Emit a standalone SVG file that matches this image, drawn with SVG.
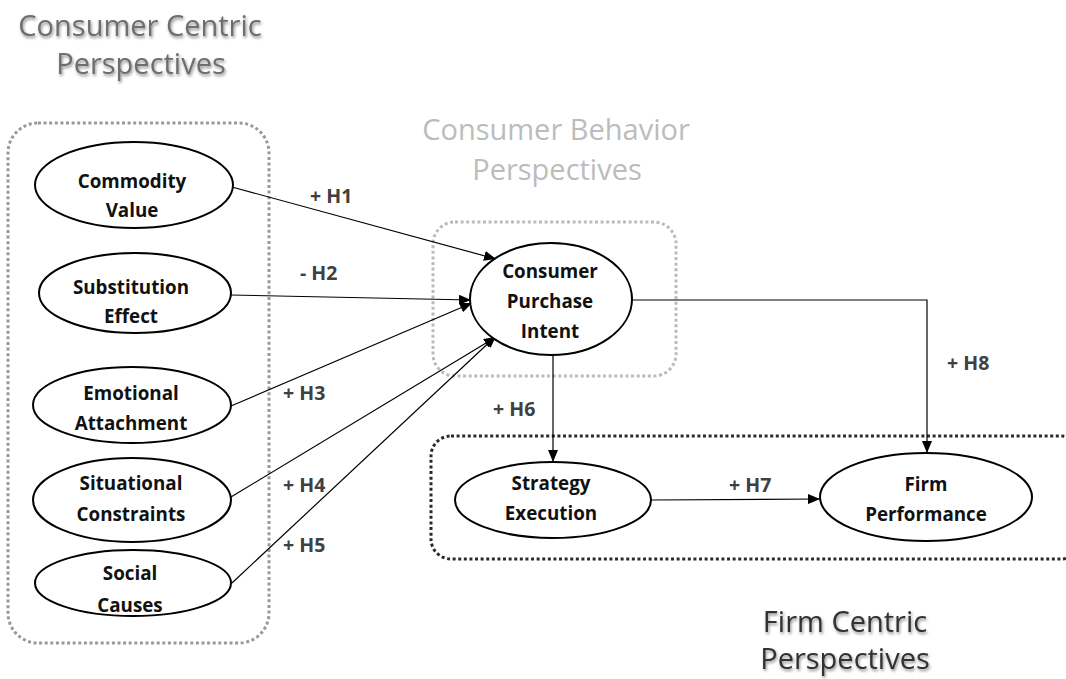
<svg xmlns="http://www.w3.org/2000/svg" width="1066" height="679" viewBox="0 0 1066 679">
  <style>
    .title { font-family: "Open Sans", "Liberation Sans", sans-serif; font-size: 29px; text-anchor: middle; }
    .node ellipse { fill: #ffffff; stroke: #000000; stroke-width: 2; }
    .node text { font-family: "Open Sans", "Liberation Sans", sans-serif; font-size: 18.8px; font-weight: bold; fill: #111111; text-anchor: middle; }
    .lbl { font-family: "Open Sans", "Liberation Sans", sans-serif; font-size: 19.5px; font-weight: bold; fill: #404040; }
    .edge { fill: none; stroke: #000000; stroke-width: 1.2; }
    .group-box { fill: none; stroke-width: 3; stroke-dasharray: 3 2.6; }
  </style>
  <defs>
    <marker id="arrow" viewBox="0 0 12 10" refX="12" refY="5" markerWidth="12" markerHeight="10" markerUnits="userSpaceOnUse" orient="auto">
      <path d="M0,0 L12,5 L0,10 z" fill="#000000"/>
    </marker>
    <filter id="soft" x="-10%" y="-30%" width="120%" height="160%">
      <feGaussianBlur in="SourceAlpha" stdDeviation="1.6"/>
      <feOffset dx="1" dy="1.5" result="b"/>
      <feFlood flood-color="#000000" flood-opacity="0.45"/>
      <feComposite in2="b" operator="in"/>
      <feMerge>
        <feMergeNode/>
        <feMergeNode in="SourceGraphic"/>
      </feMerge>
    </filter>
  </defs>

  <rect width="1066" height="679" fill="#ffffff"/>

  <!-- perspective groupings -->
  <g id="consumer-centric">
    <rect class="group-box" x="8" y="123" width="261" height="520" rx="30" stroke="#999999"/>
    <text class="title" x="140" y="36" fill="#6e6e6e" filter="url(#soft)">Consumer Centric</text>
    <text class="title" x="141" y="74" fill="#6e6e6e" filter="url(#soft)">Perspectives</text>
  </g>
  <g id="consumer-behavior">
    <rect class="group-box" x="433" y="222" width="243" height="154" rx="22" stroke="#bbbbbb"/>
    <text class="title" x="556" y="140" fill="#bcbcbc">Consumer Behavior</text>
    <text class="title" x="557" y="180" fill="#bcbcbc">Perspectives</text>
  </g>
  <g id="firm-centric">
    <rect class="group-box" x="431" y="436" width="650" height="123" rx="20" stroke="#2a2a2a"/>
    <text class="title" x="845" y="632" fill="#333333" filter="url(#soft)">Firm Centric</text>
    <text class="title" x="845" y="669" fill="#333333" filter="url(#soft)">Perspectives</text>
  </g>

  <!-- connectors -->
  <g id="connectors">
    <line class="edge" x1="232" y1="187" x2="496" y2="259" marker-end="url(#arrow)"/>
    <line class="edge" x1="231" y1="295" x2="471" y2="300" marker-end="url(#arrow)"/>
    <line class="edge" x1="231" y1="406" x2="472" y2="303" marker-end="url(#arrow)"/>
    <line class="edge" x1="231" y1="497" x2="496" y2="337" marker-end="url(#arrow)"/>
    <line class="edge" x1="232" y1="583" x2="496" y2="336" marker-end="url(#arrow)"/>
    <line class="edge" x1="553" y1="355" x2="553" y2="462" marker-end="url(#arrow)"/>
    <polyline class="edge" points="632,300 927,300 927,453" stroke="#4a4a4a" stroke-width="1.5" marker-end="url(#arrow)"/>
    <line class="edge" x1="652" y1="500" x2="820" y2="499" marker-end="url(#arrow)"/>

    <text class="lbl" x="310" y="203">+ H1</text>
    <text class="lbl" x="300" y="280">- H2</text>
    <text class="lbl" x="283" y="400">+ H3</text>
    <text class="lbl" x="283" y="492">+ H4</text>
    <text class="lbl" x="283" y="552">+ H5</text>
    <text class="lbl" x="493" y="416">+ H6</text>
    <text class="lbl" x="729" y="492">+ H7</text>
    <text class="lbl" x="947" y="370">+ H8</text>
  </g>

  <!-- constructs -->
  <g id="commodity-value" class="node">
    <ellipse cx="134" cy="185" rx="99" ry="43"/>
    <text x="132" y="188">Commodity</text>
    <text x="132" y="217">Value</text>
  </g>
  <g id="substitution-effect" class="node">
    <ellipse cx="135" cy="293" rx="96" ry="40"/>
    <text x="131" y="294">Substitution</text>
    <text x="131" y="323">Effect</text>
  </g>
  <g id="emotional-attachment" class="node">
    <ellipse cx="132" cy="405" rx="99" ry="38"/>
    <text x="131" y="400">Emotional</text>
    <text x="131" y="430">Attachment</text>
  </g>
  <g id="situational-constraints" class="node">
    <ellipse cx="132" cy="500" rx="99" ry="42"/>
    <text x="131" y="490">Situational</text>
    <text x="131" y="521">Constraints</text>
  </g>
  <g id="social-causes" class="node">
    <ellipse cx="133" cy="583" rx="98" ry="33"/>
    <text x="130" y="580">Social</text>
    <text x="130" y="612">Causes</text>
  </g>
  <g id="consumer-purchase-intent" class="node">
    <ellipse cx="551" cy="299" rx="81" ry="56"/>
    <text x="550" y="278">Consumer</text>
    <text x="550" y="308">Purchase</text>
    <text x="550" y="338">Intent</text>
  </g>
  <g id="strategy-execution" class="node">
    <ellipse cx="553" cy="500" rx="98" ry="38"/>
    <text x="551" y="490">Strategy</text>
    <text x="551" y="520">Execution</text>
  </g>
  <g id="firm-performance" class="node">
    <ellipse cx="926" cy="497" rx="106" ry="44"/>
    <text x="926" y="491">Firm</text>
    <text x="926" y="521">Performance</text>
  </g>
</svg>
